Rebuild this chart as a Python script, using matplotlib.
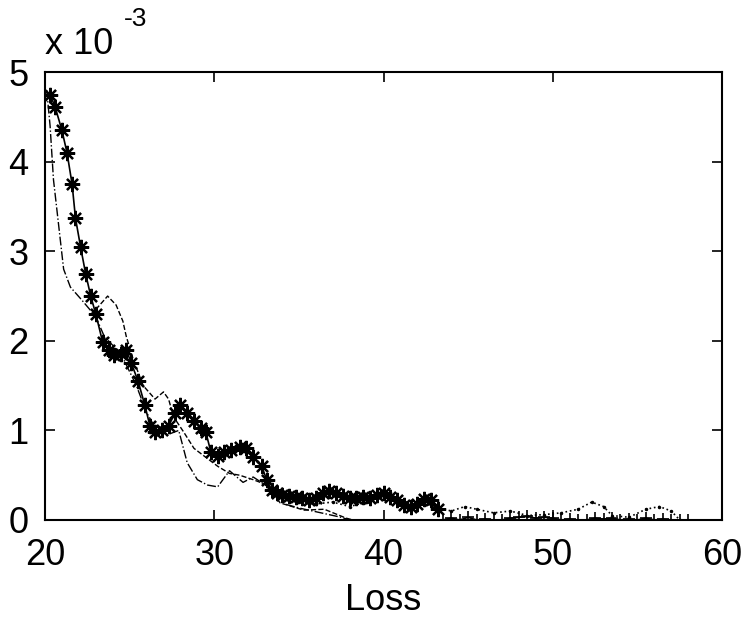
import matplotlib
matplotlib.use("Agg")
import matplotlib.pyplot as plt

plt.rcParams['font.family'] = ['Liberation Sans', 'DejaVu Sans']

# Series 1: solid line with star markers (values in units of 1e-3)
s1_x = [20.3, 20.6, 21.0, 21.3, 21.6, 21.8, 22.1, 22.4, 22.7, 23.0, 23.4, 23.8, 24.1, 24.5,
        24.8, 25.1, 25.5, 25.9, 26.2, 26.5, 26.9, 27.3, 27.7, 28.0, 28.4, 28.8, 29.2, 29.5,
        29.8, 30.2, 30.6, 31.0, 31.5, 31.9, 32.3, 32.8, 33.1, 33.4, 33.7, 34.0, 34.4, 34.8,
        35.2, 35.6, 36.0, 36.4, 36.8, 37.2, 37.6, 38.0, 38.4, 38.8, 39.2, 39.6, 40.0, 40.4,
        40.8, 41.2, 41.6, 42.0, 42.4, 42.8, 43.2]
s1_y = [4.75, 4.61, 4.35, 4.10, 3.75, 3.37, 3.05, 2.75, 2.50, 2.30, 1.99, 1.90, 1.84, 1.85,
        1.90, 1.75, 1.55, 1.28, 1.05, 0.98, 1.00, 1.05, 1.20, 1.28, 1.20, 1.10, 1.03, 0.98,
        0.76, 0.72, 0.76, 0.78, 0.81, 0.80, 0.70, 0.60, 0.45, 0.33, 0.30, 0.28, 0.27, 0.26,
        0.24, 0.22, 0.25, 0.30, 0.32, 0.30, 0.27, 0.25, 0.24, 0.26, 0.25, 0.28, 0.30, 0.26,
        0.22, 0.17, 0.15, 0.18, 0.23, 0.22, 0.12]

# Series 2: dash-dot line
s2_x = [20.1, 20.3, 20.5, 20.8, 21.1, 21.5, 22.2, 23.0, 23.5, 24.5, 25.4, 26.0, 26.6, 27.2,
        27.9, 28.4, 29.0, 29.6, 30.2, 30.9, 31.7, 32.3, 33.5, 34.3, 35.1, 37.5, 38.0]
s2_y = [4.80, 4.40, 3.80, 3.30, 2.80, 2.60, 2.45, 2.27, 2.05, 1.85, 1.50, 1.20, 1.00, 0.95,
        1.00, 0.64, 0.45, 0.39, 0.37, 0.55, 0.42, 0.48, 0.33, 0.17, 0.13, 0.03, 0.00]

# Series 3: dashed line
s3_x = [23.0, 23.7, 24.2, 24.6, 24.8, 25.2, 25.8, 26.5, 27.0, 27.3, 27.6, 28.2, 28.8, 29.5,
        30.2, 30.9, 31.5, 32.3, 33.0, 33.9, 35.3, 36.5, 37.8, 38.2]
s3_y = [2.35, 2.50, 2.40, 2.22, 2.05, 1.80, 1.50, 1.35, 1.43, 1.35, 1.15, 0.98, 0.80, 0.70,
        0.60, 0.52, 0.50, 0.45, 0.40, 0.19, 0.11, 0.12, 0.02, 0.00]

# Series 4: dotted line with point markers
s4_x = [33.0, 34.0, 35.0, 36.0, 37.0, 38.0, 39.0, 40.0, 41.0, 42.0, 43.0, 44.0, 44.8, 45.5,
        46.5, 47.5, 48.5, 49.5, 50.5, 51.5, 52.3, 53.0, 53.5, 54.5, 55.5, 56.3, 57.0, 57.5]
s4_y = [0.45, 0.25, 0.20, 0.18, 0.20, 0.15, 0.20, 0.30, 0.20, 0.20, 0.15, 0.10, 0.15, 0.12,
        0.08, 0.10, 0.05, 0.06, 0.08, 0.12, 0.20, 0.15, 0.05, 0.03, 0.12, 0.15, 0.10, 0.00]

# Series 5: solid line with plus markers near zero
s5_x = [43.5, 44.0, 44.5, 45.0, 45.5, 46.0, 46.5, 47.0, 47.5, 48.0, 48.5, 49.0, 49.5, 50.0,
        50.5, 51.0, 51.5, 52.0, 52.5, 53.0, 53.5, 54.0, 54.5, 55.0, 55.5, 56.0, 56.5, 57.0,
        57.5, 58.0]
s5_y = [0.00, 0.02, 0.00, 0.03, 0.00, 0.01, 0.00, 0.00, 0.02, 0.03, 0.04, 0.02, 0.03, 0.02,
        0.00, 0.01, 0.00, 0.00, 0.02, 0.01, 0.02, 0.00, 0.01, 0.00, 0.02, 0.00, 0.01, 0.00,
        0.00, 0.00]

x_ticks = [20, 30, 40, 50, 60]
y_ticks = [0, 1, 2, 3, 4, 5]
scale = 1e-3

fig = plt.figure(figsize=(7.44, 6.22), dpi=100)
ax = fig.add_axes([0.0605, 0.164, 0.910, 0.720])

ax.plot(s2_x, [v * scale for v in s2_y], color='black', linestyle='-.', linewidth=1.0)
ax.plot(s3_x, [v * scale for v in s3_y], color='black', linestyle='--', linewidth=1.0)
ax.plot(s4_x, [v * scale for v in s4_y], color='black', linestyle=':', linewidth=1.2,
        marker='.', markersize=3)
ax.plot(s5_x, [v * scale for v in s5_y], color='black', linestyle='-', linewidth=1.2,
        marker='+', markersize=8, markeredgewidth=1.2)
ax.plot(s1_x, [v * scale for v in s1_y], color='black', linestyle='-', linewidth=1.2,
        marker=(8, 2, 0), markersize=11, markeredgewidth=1.6)

ax.set_xlim(20, 60)
ax.set_ylim(0, 5 * scale)
ax.set_xticks(x_ticks)
ax.set_xticklabels([str(t) for t in x_ticks])
ax.set_yticks([t * scale for t in y_ticks])
ax.set_yticklabels([str(t) for t in y_ticks])
ax.tick_params(direction='in', length=7, width=1.2, labelsize=26, top=True, right=True)
ax.tick_params(axis='x', pad=13)
ax.tick_params(axis='y', pad=12)
for sp in ax.spines.values():
    sp.set_linewidth(1.5)

ax.set_xlabel('Loss', fontsize=26, labelpad=7)
fig.text(0.060, 0.913, 'x 10', fontsize=26, ha='left', va='baseline')
fig.text(0.167, 0.958, '-3', fontsize=19, ha='left', va='baseline')

fig.savefig('out.png', dpi=100)
